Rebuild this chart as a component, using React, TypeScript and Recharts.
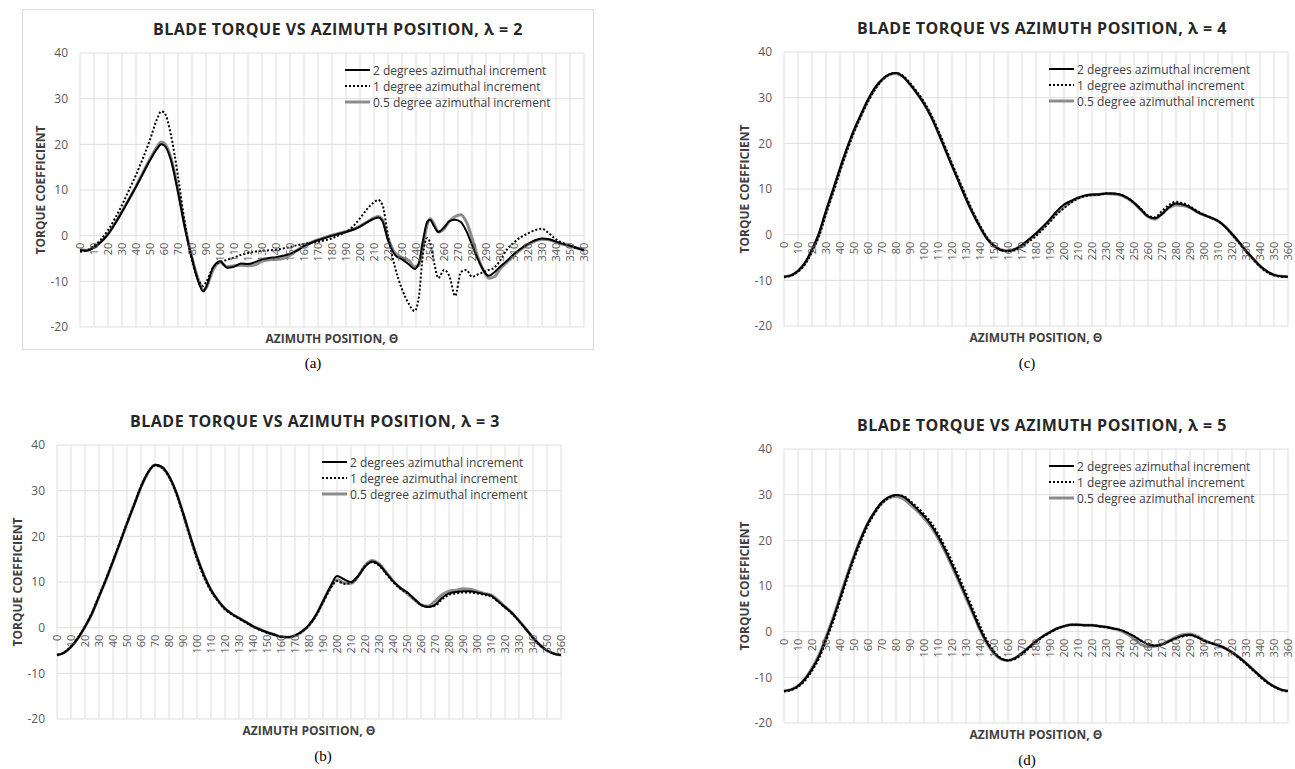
import React from 'react';
import { LineChart, Line, XAxis, YAxis, CartesianGrid } from 'recharts';

// ---- shared axis values ----
const xTickValues = [0, 10, 20, 30, 40, 50, 60, 70, 80, 90, 100, 110, 120, 130, 140, 150, 160, 170, 180, 190, 200, 210, 220, 230, 240, 250, 260, 270, 280, 290, 300, 310, 320, 330, 340, 350, 360];
const yTickValues = [-20, -10, 0, 10, 20, 30, 40];
const seriesNames = ['2 degrees azimuthal increment', '1 degree azimuthal increment', '0.5 degree azimuthal increment'];

// ---- (a) lambda = 2 ----
const anglesA = [0, 5, 10, 15, 20, 25, 30, 35, 40, 45, 50, 55, 58, 60, 65, 70, 75, 80, 85, 88, 90, 95, 100, 105, 110, 115, 120, 125, 130, 135, 140, 145, 150, 155, 160, 165, 170, 175, 180, 185, 190, 195, 200, 205, 210, 213, 216, 220, 225, 230, 235, 239, 242, 245, 248, 250, 253, 256, 260, 264, 268, 272, 276, 280, 284, 288, 292, 296, 300, 305, 310, 315, 320, 325, 330, 335, 340, 345, 350, 355, 360];
const torqueA2 = [-3.2, -3.3, -2.6, -1.4, 0.3, 2.6, 5.2, 7.9, 10.7, 13.6, 16.5, 19.0, 20.0, 19.8, 16.5, 9.5, 1.5, -5.0, -10.5, -12.2, -11.3, -7.0, -5.6, -7.0, -6.8, -6.1, -6.2, -5.8, -5.2, -4.9, -4.7, -4.4, -4.0, -3.3, -2.3, -1.6, -1.0, -0.5, 0.0, 0.4, 0.8, 1.3, 2.0, 2.9, 3.7, 4.0, 3.2, -1.0, -4.2, -5.2, -6.3, -7.3, -6.0, -1.0, 3.0, 3.5, 2.0, 0.8, 1.8, 3.2, 3.5, 3.0, 1.0, -2.0, -5.0, -7.5, -8.8, -8.0, -6.8, -5.5, -4.0, -2.8, -1.8, -1.0, -0.6, -0.8, -1.3, -1.8, -2.2, -2.7, -3.2];
const torqueA1 = [-3.5, -3.2, -2.2, -0.8, 1.2, 3.8, 6.7, 10.0, 13.3, 17.0, 21.0, 25.5, 27.2, 27.0, 22.0, 13.0, 2.5, -5.5, -10.0, -11.0, -10.2, -7.0, -5.8, -5.3, -4.8, -4.2, -3.8, -3.5, -3.3, -3.2, -3.1, -2.8, -2.5, -2.1, -1.8, -1.6, -1.4, -1.0, -0.6, 0.1, 0.8, 2.0, 3.8, 5.8, 7.3, 7.8, 6.8, 0.0, -6.9, -11.7, -15.0, -16.5, -13.5, -4.0, -0.5, -1.5, -6.0, -9.3, -7.5, -9.0, -13.2, -8.0, -7.5, -9.0, -8.5, -8.0, -7.5, -7.0, -5.5, -3.0, -1.5, -0.3, 0.5, 1.2, 1.5, 0.5, -0.8, -1.6, -2.2, -2.8, -3.3];
const torqueA05 = [-3.0, -3.2, -2.5, -1.3, 0.4, 2.7, 5.3, 8.0, 10.8, 13.8, 16.8, 19.4, 20.5, 20.3, 17.0, 10.0, 2.0, -4.8, -10.0, -12.0, -11.5, -7.5, -5.8, -6.8, -6.6, -6.5, -6.6, -6.4, -5.6, -5.3, -5.2, -5.0, -4.3, -3.2, -2.2, -1.5, -0.9, -0.4, 0.1, 0.5, 0.9, 1.4, 2.1, 3.0, 3.9, 4.2, 3.5, -0.5, -3.8, -4.8, -5.5, -6.8, -6.5, -2.5, 2.5, 3.7, 2.5, 0.8, 1.5, 3.2, 4.2, 4.6, 3.0, -0.5, -4.5, -7.5, -9.3, -9.0, -7.3, -5.8, -4.3, -3.0, -2.0, -1.2, -0.8, -0.9, -1.4, -1.9, -2.3, -2.7, -3.0];

// ---- (b), (c), (d) share a 5 degree grid ----
const angles5 = [0, 5, 10, 15, 20, 25, 30, 35, 40, 45, 50, 55, 60, 65, 70, 75, 80, 85, 90, 95, 100, 105, 110, 115, 120, 125, 130, 135, 140, 145, 150, 155, 160, 165, 170, 175, 180, 185, 190, 195, 200, 205, 210, 215, 220, 225, 230, 235, 240, 245, 250, 255, 260, 265, 270, 275, 280, 285, 290, 295, 300, 305, 310, 315, 320, 325, 330, 335, 340, 345, 350, 355, 360];

// (b) lambda = 3
const torqueB2 = [-6.0, -5.5, -4.2, -2.3, 0.2, 3.1, 6.8, 10.5, 14.5, 18.6, 22.8, 26.8, 30.8, 34.0, 35.7, 35.2, 33.2, 29.8, 25.2, 20.2, 15.5, 11.5, 8.3, 6.0, 4.2, 3.0, 2.1, 1.2, 0.3, -0.4, -1.0, -1.5, -2.0, -2.1, -1.7, -0.8, 0.6, 2.8, 5.8, 8.8, 11.3, 10.6, 10.0, 11.3, 13.3, 14.5, 13.8, 12.0, 10.2, 8.8, 7.8, 6.4, 5.0, 4.5, 5.0, 6.5, 7.5, 7.8, 8.0, 8.0, 7.7, 7.4, 7.0, 5.8, 4.5, 3.2, 1.5, -0.3, -2.2, -3.8, -5.0, -5.7, -6.0];
const torqueB1 = [-6.0, -5.4, -4.1, -2.2, 0.3, 3.3, 7.0, 10.7, 14.7, 18.8, 23.0, 27.0, 31.0, 34.0, 35.5, 35.0, 33.0, 29.5, 24.8, 19.8, 15.0, 11.0, 8.0, 5.8, 4.0, 2.9, 2.0, 1.1, 0.2, -0.5, -1.1, -1.6, -2.0, -2.1, -1.7, -0.9, 0.5, 2.6, 5.5, 8.4, 10.2, 9.6, 9.8, 11.3, 13.5, 14.3, 13.6, 11.8, 10.0, 8.6, 7.6, 6.3, 5.0, 4.6, 4.8, 6.2, 7.2, 7.5, 7.7, 7.7, 7.5, 7.2, 6.8, 5.7, 4.4, 3.1, 1.4, -0.4, -2.3, -3.9, -5.0, -5.7, -6.0];
const torqueB05 = [-6.0, -5.5, -4.2, -2.3, 0.2, 3.1, 6.8, 10.5, 14.5, 18.6, 22.8, 26.8, 30.8, 33.9, 35.6, 35.1, 33.1, 29.7, 25.1, 20.1, 15.4, 11.4, 8.2, 5.9, 4.1, 3.0, 2.1, 1.2, 0.3, -0.4, -1.0, -1.5, -2.0, -2.1, -1.8, -0.9, 0.5, 2.7, 5.7, 8.7, 10.5, 9.8, 9.7, 11.2, 13.6, 14.7, 14.0, 12.2, 10.3, 8.7, 7.5, 6.2, 5.0, 4.7, 5.8, 7.2, 8.0, 8.2, 8.5, 8.4, 8.0, 7.5, 7.2, 6.0, 4.6, 3.2, 1.5, -0.3, -2.2, -3.8, -5.0, -5.7, -6.0];

// (c) lambda = 4
const torqueC2 = [-9.2, -8.9, -7.9, -6.1, -3.2, 0.4, 5.3, 9.9, 14.6, 19.0, 23.0, 26.4, 29.6, 32.2, 34.0, 35.1, 35.4, 34.6, 32.9, 30.9, 28.6, 25.8, 22.4, 18.7, 15.0, 11.4, 7.8, 4.5, 1.6, -0.9, -2.5, -3.4, -3.6, -3.2, -2.2, -1.0, 0.3, 1.8, 3.4, 5.2, 6.6, 7.4, 8.1, 8.6, 8.8, 8.8, 9.0, 9.0, 8.8, 8.1, 7.0, 5.5, 4.0, 3.6, 4.5, 6.0, 6.8, 6.6, 6.0, 5.0, 4.3, 3.7, 3.0, 1.8, 0.2, -1.6, -3.5, -5.2, -6.8, -8.0, -8.8, -9.1, -9.2];
const torqueC1 = [-9.3, -9.0, -8.1, -6.5, -3.8, -0.3, 4.5, 9.1, 13.8, 18.3, 22.4, 25.9, 29.1, 31.8, 33.8, 35.0, 35.4, 34.8, 33.2, 31.3, 29.1, 26.3, 23.0, 19.3, 15.6, 12.0, 8.4, 5.0, 2.0, -0.6, -2.3, -3.3, -3.6, -3.4, -2.6, -1.5, -0.3, 1.2, 2.8, 4.5, 5.8, 7.0, 7.9, 8.4, 8.7, 8.8, 9.0, 9.0, 8.8, 8.1, 7.0, 5.6, 4.2, 3.8, 5.2, 6.5, 7.2, 6.9, 6.2, 5.2, 4.4, 3.7, 3.0, 1.7, 0.0, -1.8, -3.7, -5.4, -7.0, -8.2, -8.9, -9.2, -9.3];
const torqueC05 = [-9.2, -8.9, -8.0, -6.3, -3.5, 0.0, 4.9, 9.5, 14.2, 18.7, 22.7, 26.1, 29.4, 32.0, 33.9, 35.0, 35.3, 34.6, 33.0, 31.0, 28.8, 26.0, 22.6, 18.9, 15.2, 11.6, 8.0, 4.7, 1.8, -0.8, -2.4, -3.3, -3.5, -3.2, -2.4, -1.2, 0.1, 1.5, 3.1, 4.8, 6.1, 7.2, 8.0, 8.5, 8.7, 8.8, 9.0, 8.9, 8.7, 8.0, 6.9, 5.4, 3.9, 3.4, 4.6, 5.9, 6.5, 6.4, 5.9, 5.0, 4.3, 3.7, 3.0, 1.8, 0.1, -1.7, -3.6, -5.3, -6.9, -8.1, -8.8, -9.1, -9.2];

// (d) lambda = 5
const torqueD2 = [-13.0, -12.7, -11.9, -10.4, -8.2, -5.4, -1.5, 2.7, 7.3, 12.0, 16.4, 20.4, 23.8, 26.4, 28.4, 29.5, 29.9, 29.6, 28.4, 26.9, 25.3, 23.4, 20.9, 18.0, 14.7, 11.3, 7.8, 4.2, 0.6, -2.4, -4.6, -5.9, -6.3, -5.8, -4.7, -3.4, -2.1, -1.0, -0.1, 0.7, 1.2, 1.5, 1.5, 1.4, 1.4, 1.2, 1.0, 0.7, 0.4, -0.2, -1.0, -2.0, -2.8, -3.1, -2.8, -2.1, -1.4, -0.9, -0.7, -1.2, -2.0, -2.5, -3.0, -3.6, -4.5, -5.6, -6.9, -8.3, -9.7, -11.0, -12.0, -12.7, -13.0];
const torqueD1 = [-13.1, -12.8, -12.1, -10.7, -8.6, -5.9, -2.1, 2.1, 6.7, 11.4, 15.8, 19.8, 23.3, 26.0, 28.1, 29.3, 29.9, 29.7, 28.7, 27.3, 25.7, 23.9, 21.5, 18.6, 15.4, 12.0, 8.5, 4.9, 1.3, -1.9, -4.3, -5.8, -6.3, -6.0, -5.0, -3.7, -2.3, -1.1, -0.2, 0.6, 1.2, 1.5, 1.5, 1.4, 1.4, 1.2, 1.0, 0.7, 0.4, -0.2, -1.0, -1.9, -2.6, -3.0, -2.9, -2.2, -1.5, -1.0, -0.8, -1.2, -1.9, -2.5, -3.0, -3.7, -4.6, -5.8, -7.1, -8.5, -9.9, -11.2, -12.1, -12.8, -13.1];
const torqueD05 = [-13.0, -12.7, -11.9, -10.3, -8.0, -5.1, -1.2, 3.0, 7.6, 12.3, 16.6, 20.5, 23.8, 26.3, 28.2, 29.3, 29.6, 29.1, 27.9, 26.5, 24.9, 23.0, 20.5, 17.6, 14.3, 10.9, 7.4, 3.9, 0.4, -2.6, -4.8, -6.0, -6.3, -5.8, -4.7, -3.4, -2.1, -1.0, -0.1, 0.7, 1.2, 1.5, 1.5, 1.4, 1.4, 1.2, 1.0, 0.7, 0.3, -0.5, -1.6, -2.8, -3.3, -3.2, -2.7, -2.0, -1.2, -0.6, -0.5, -1.0, -1.9, -2.5, -3.0, -3.6, -4.5, -5.6, -6.9, -8.3, -9.7, -11.0, -12.0, -12.7, -13.0];

// ---- layout ----
const FONT = '"Open Sans", "Noto Sans", sans-serif';
const PLOT_W = 504;
const PLOT_H = 274;
const Y_MIN = -20;
const Y_MAX = 40;
const PAD_LEFT = 60;
const PAD_TOP = 10;
const GRID = '#dedede';
const GRAY = '#8c8c8c';

interface PanelSpec {
  lambda: number;
  plotLeft: number;
  plotTop: number;
  caption: string;
  captionX: number;
  captionY: number;
  framed?: boolean;
  angles: number[];
  s2: number[];
  s1: number[];
  s05: number[];
}

const panels: PanelSpec[] = [
  { lambda: 2, plotLeft: 80, plotTop: 53, caption: '(a)', captionX: 313, captionY: 363, framed: true, angles: anglesA, s2: torqueA2, s1: torqueA1, s05: torqueA05 },
  { lambda: 3, plotLeft: 57, plotTop: 445, caption: '(b)', captionX: 323, captionY: 756, angles: angles5, s2: torqueB2, s1: torqueB1, s05: torqueB05 },
  { lambda: 4, plotLeft: 784, plotTop: 52, caption: '(c)', captionX: 1027, captionY: 363, angles: angles5, s2: torqueC2, s1: torqueC1, s05: torqueC05 },
  { lambda: 5, plotLeft: 784, plotTop: 449, caption: '(d)', captionX: 1027, captionY: 760, angles: angles5, s2: torqueD2, s1: torqueD1, s05: torqueD05 },
];

function LegendSample({ kind }: { kind: number }) {
  if (kind === 0) return <line x1={0} y1={8} x2={25} y2={8} stroke="#000" strokeWidth={2} />;
  if (kind === 1) return <line x1={0} y1={8} x2={25} y2={8} stroke="#000" strokeWidth={2} strokeDasharray="2 2" />;
  return <line x1={0} y1={8} x2={25} y2={8} stroke={GRAY} strokeWidth={3} />;
}

function Panel({ p }: { p: PanelSpec }) {
  const rows = p.angles.map((deg, i) => ({ deg, s2: p.s2[i], s1: p.s1[i], s05: p.s05[i] }));
  // pixel row of the value 0 inside the chart, from the y domain
  const zeroY = PAD_TOP + (PLOT_H * (Y_MAX - 0)) / (Y_MAX - Y_MIN);
  const cx = p.plotLeft + PLOT_W / 2;
  const cy = p.plotTop + PLOT_H / 2;
  const bottom = p.plotTop + PLOT_H;

  const renderXTick = (props: any) => {
    const { x, payload } = props;
    const ty = zeroY + 7;
    return (
      <text
        x={x}
        y={ty}
        transform={`rotate(-90 ${x} ${ty})`}
        textAnchor="end"
        dominantBaseline="central"
        fontSize={11}
        fontFamily={FONT}
        fill="#595959"
      >
        {payload.value}
      </text>
    );
  };

  return (
    <>
      <svg width={1295} height={769} style={{ position: 'absolute', left: 0, top: 0, pointerEvents: 'none' }}>
        {p.framed && <rect x={22.5} y={9.5} width={571} height={340} fill="none" stroke="#d9d9d9" />}
        <text x={cx + 6} y={p.plotTop - 24} textAnchor="middle" dominantBaseline="central" fontFamily={FONT} fontWeight={700} fontSize={16} letterSpacing={0.5} fill="#262626">
          {`BLADE TORQUE VS AZIMUTH POSITION, λ = ${p.lambda}`}
        </text>
        <text x={p.plotLeft - 40} y={cy} transform={`rotate(-90 ${p.plotLeft - 40} ${cy})`} textAnchor="middle" dominantBaseline="central" fontFamily={FONT} fontWeight={700} fontSize={12} fill="#404040">
          TORQUE COEFFICIENT
        </text>
        <text x={cx} y={bottom + 11} textAnchor="middle" dominantBaseline="central" fontFamily={FONT} fontWeight={700} fontSize={12} fill="#404040">
          AZIMUTH POSITION, Θ
        </text>
        <text x={p.captionX} y={p.captionY} textAnchor="middle" dominantBaseline="central" fontFamily='"Liberation Serif", "Times New Roman", serif' fontSize={15} fill="#000">
          {p.caption}
        </text>
      </svg>
      <div style={{ position: 'absolute', left: p.plotLeft - PAD_LEFT, top: p.plotTop - PAD_TOP }}>
        <LineChart
          width={PLOT_W + PAD_LEFT + 10}
          height={PLOT_H + PAD_TOP + 30}
          data={rows}
          margin={{ top: PAD_TOP, right: 10, bottom: 0, left: 20 }}
        >
          <CartesianGrid stroke={GRID} strokeWidth={1} />
          <XAxis
            dataKey="deg"
            type="number"
            domain={[0, 360]}
            ticks={xTickValues}
            interval={0}
            axisLine={false}
            tickLine={false}
            height={30}
            tick={renderXTick}
          />
          <YAxis
            type="number"
            domain={[Y_MIN, Y_MAX]}
            ticks={yTickValues}
            width={40}
            axisLine={false}
            tickLine={false}
            tickMargin={6}
            tick={{ fontSize: 12, fill: '#595959', fontFamily: FONT }}
          />
          <Line type="monotone" dataKey="s05" stroke={GRAY} strokeWidth={3} dot={false} isAnimationActive={false} />
          <Line type="monotone" dataKey="s1" stroke="#000" strokeWidth={2} strokeDasharray="2 2" dot={false} isAnimationActive={false} />
          <Line type="monotone" dataKey="s2" stroke="#000" strokeWidth={2} dot={false} isAnimationActive={false} />
        </LineChart>
      </div>
      <div style={{ position: 'absolute', left: p.plotLeft + 265, top: p.plotTop + 9, fontFamily: FONT, fontSize: 12, color: '#404040' }}>
        {seriesNames.map((name, i) => (
          <div key={name} style={{ display: 'flex', alignItems: 'center', height: 16, whiteSpace: 'nowrap' }}>
            <svg width={26} height={16} style={{ marginRight: 2 }}>
              <LegendSample kind={i} />
            </svg>
            <span>{name}</span>
          </div>
        ))}
      </div>
    </>
  );
}

export default function App() {
  return (
    <div style={{ position: 'absolute', left: 0, top: 0, width: 1295, height: 769, background: '#fff', overflow: 'hidden' }}>
      {panels.map((p) => (
        <Panel key={p.lambda} p={p} />
      ))}
    </div>
  );
}
